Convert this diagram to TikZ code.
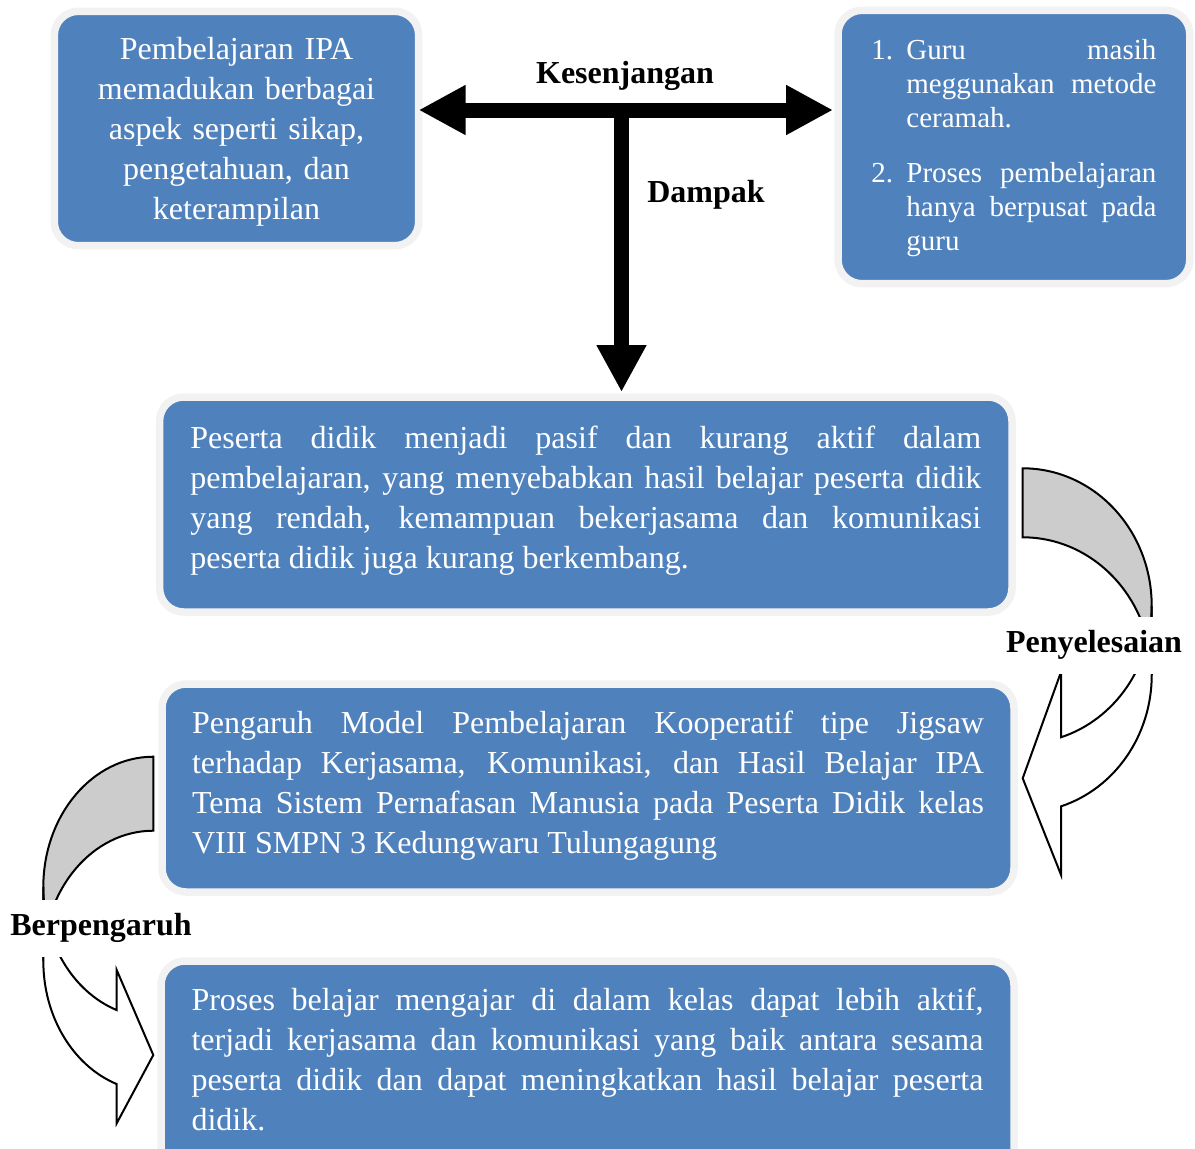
\documentclass[tikz,border=0pt]{standalone}
\usepackage{fontspec}
\setmainfont{Liberation Serif}
\usetikzlibrary{arrows.meta}
\definecolor{boxblue}{HTML}{4F81BD}
\definecolor{rimgray}{HTML}{F2F2F2}
\definecolor{backgray}{HTML}{CCCCCC}
\newcommand\lowstrut[1]{\rule[-#1]{0pt}{#1}}
\newcommand\itemno[1]{\noindent\llap{\makebox[17.5pt][l]{#1}}}
\hyphenpenalty=10000
\tolerance=9999
\begin{document}
\begin{tikzpicture}[x=0.5pt, y=-0.5pt,
    infobox/.style={draw=rimgray, line width=3.75pt, fill=boxblue, rounded corners=12pt,
      text=white, inner sep=0pt, outer sep=0pt, font=\fontsize{16pt}{20pt}\selectfont},
    tag/.style={font=\fontsize{16pt}{20pt}\selectfont\bfseries, inner sep=1pt, text height=11pt, text depth=3.5pt},
    cuttag/.style={tag, fill=white, inner ysep=7pt},
    bigarrow/.style={line width=7.5pt},
    backpart/.style={draw=black, line width=1pt, fill=backgray},
    frontpart/.style={draw=black, line width=1pt, fill=white},
    >={Triangle[length=23.5pt,width=23.5pt]}]
    \useasboundingbox (0,0) rectangle (1195,1148);

    % Top left: what IPA learning should be
    \node[infobox, minimum width=182.2pt, minimum height=117.2pt, text width=150pt, align=center] (ipa) at (236.5,128.5)
        {\rule{0pt}{14pt}Pembelajaran IPA\\ memadukan berbagai\\ aspek seperti sikap,\\ pengetahuan, dan\\ keterampilan};

    % Top right: what happens in class
    \node[infobox, minimum width=175.9pt, minimum height=136.7pt, text width=142.5pt, align=justify,
        font=\fontsize{14.5pt}{17pt}\selectfont] (problem) at (1013.9,147)
        {\leftskip=17.5pt
         \itemno{1.}\rule{0pt}{11pt}Guru masih\linebreak meggunakan metode\linebreak ceramah.\par\vspace{10.5pt}
         \itemno{2.}Proses pembelajaran\linebreak hanya berpusat pada\linebreak guru\par};

    % Middle: the impact
    \node[infobox, minimum width=426.2pt, minimum height=107.5pt, text width=395.5pt, align=justify] (impact) at (585.8,504.5)
        {Peserta didik menjadi pasif dan kurang aktif dalam\linebreak pembelajaran, yang menyebabkan hasil belajar peserta didik\linebreak yang rendah, kemampuan bekerjasama dan komunikasi\linebreak peserta didik juga kurang berkembang.\lowstrut{7.5pt}};

    % The research title
    \node[infobox, minimum width=426pt, minimum height=104pt, text width=396pt, align=justify] (study) at (588,788)
        {Pengaruh Model Pembelajaran Kooperatif tipe Jigsaw\linebreak terhadap Kerjasama, Komunikasi, dan Hasil Belajar IPA\linebreak Tema Sistem Pernafasan Manusia pada Peserta Didik kelas\linebreak VIII SMPN 3 Kedungwaru Tulungagung\lowstrut{5.5pt}};

    % Expected outcome (runs off the bottom)
    \node[infobox, minimum width=426.5pt, minimum height=107pt, text width=396pt, align=justify] (result) at (587.5,1068)
        {Proses belajar mengajar di dalam kelas dapat lebih aktif,\linebreak terjadi kerjasama dan komunikasi yang baik antara sesama\linebreak peserta didik dan dapat meningkatkan hasil belajar peserta\linebreak didik.\lowstrut{8.5pt}};

    % The T arrow between the top boxes and down to the impact
    \coordinate (tee) at (621.5,110);
    \draw[bigarrow, <->, shorten >=2.5pt] (ipa.east |- tee) -- (problem.west |- tee);
    \draw[bigarrow, ->, shorten >=2.5pt] (tee) -- (tee |- impact.north);

    % Curved arrow on the right
    \draw[backpart] (1022.7,468.3) arc[start angle=90, end angle=0, x radius=64.5pt, y radius=68.8pt]
        -- (1151.7,674.9) arc[start angle=0, end angle=90, x radius=64.5pt, y radius=68.8pt] -- cycle;
    \draw[frontpart] (1151.7,605.9) arc[start angle=0, end angle=-72.7, x radius=64.5pt, y radius=68.8pt]
        -- (1061.1,671.7) -- (1022.7,778.3) -- (1061.1,875) -- (1061.1,806.3)
        arc[start angle=-72.7, end angle=0, x radius=64.5pt, y radius=68.8pt] -- cycle;

    % Curved arrow on the left
    \draw[backpart] (153.3,756.7) arc[start angle=90, end angle=180, x radius=55pt, y radius=65.2pt]
        -- (43.3,961.1) arc[start angle=180, end angle=90, x radius=55pt, y radius=65.2pt] -- cycle;
    \draw[frontpart] (43.3,887.1) arc[start angle=180, end angle=250.5, x radius=55pt, y radius=65.2pt]
        -- (116.7,970) -- (153.3,1055) -- (116.7,1123.3) -- (116.6,1084)
        arc[start angle=250.5, end angle=180, x radius=55pt, y radius=65.2pt] -- cycle;

    % Labels
    \node[tag] (kesenjangan) at (625,76) {Kesenjangan};
    \node[tag] (dampak) at (706,195) {Dampak};
    \node[cuttag] (penyelesaian) at (1094,645) {Penyelesaian};
    \node[cuttag] (berpengaruh) at (101,928) {Berpengaruh};
\end{tikzpicture}
\end{document}
